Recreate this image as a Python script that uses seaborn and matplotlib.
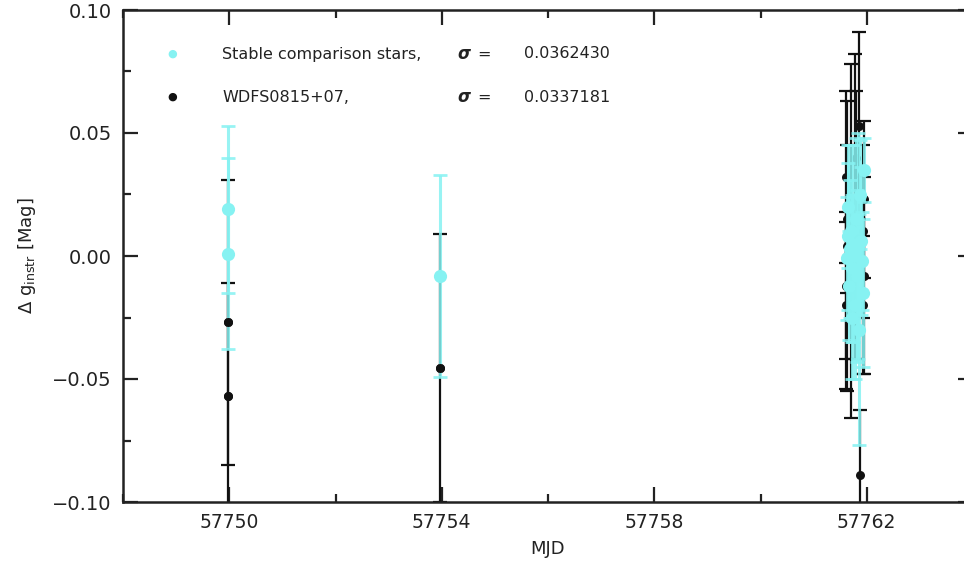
import numpy as np
import pandas as pd
import matplotlib
matplotlib.use("Agg")
import matplotlib.pyplot as plt
from matplotlib.ticker import MultipleLocator, FuncFormatter
import seaborn as sns

# ---- data ----
# Stable comparison stars (cyan)
comp_mjd = [57749.97, 57749.97, 57753.97,
            57761.62, 57761.64, 57761.66, 57761.68, 57761.70, 57761.72, 57761.74,
            57761.76, 57761.78, 57761.80, 57761.82, 57761.84, 57761.86, 57761.88,
            57761.90, 57761.92, 57761.94, 57761.65, 57761.73, 57761.91]
comp_mag = [0.019, 0.001, -0.008,
            -0.001, 0.008, -0.012, 0.003, 0.010, -0.005, 0.005,
            0.000, -0.020, 0.015, -0.008, 0.004, -0.030, 0.025,
            0.006, -0.015, 0.035, 0.020, -0.025, -0.002]
comp_err = [0.034, 0.039, 0.041,
            0.025, 0.030, 0.022, 0.028, 0.035, 0.030, 0.040,
            0.025, 0.030, 0.033, 0.035, 0.046, 0.047, 0.022,
            0.030, 0.030, 0.013, 0.025, 0.025, 0.020]

# WDFS0815+07 (black)
wd_mjd = [57749.97, 57749.97, 57753.97,
          57761.63, 57761.70, 57761.77, 57761.85, 57761.88, 57761.61, 57761.61,
          57761.94, 57761.94, 57761.62, 57761.93, 57761.61, 57761.93, 57761.80]
wd_mag = [-0.027, -0.057, -0.0455,
          0.004, 0.006, 0.020, 0.053, -0.089, 0.032, -0.020,
          0.023, -0.008, 0.015, 0.010, -0.012, -0.020, 0.040]
wd_err = [0.058, 0.046, 0.0545,
          0.059, 0.072, 0.062, 0.038, 0.0265, 0.035, 0.034,
          0.032, 0.040, 0.030, 0.035, 0.030, 0.028, 0.027]

legend_labels = ["Stable comparison stars,", "WDFS0815+07,"]
legend_sigmas = ["0.0362430", "0.0337181"]

x_ticks = [57750, 57754, 57758, 57762]
y_ticks = [-0.10, -0.05, 0.00, 0.05, 0.10]

CYAN = "#86f2f2"
BLACK = "#111111"
TXT = "#222222"

sns.set_theme(style="white")
plt.rcParams['font.family'] = ['DejaVu Sans']

comp = pd.DataFrame({"mjd": comp_mjd, "mag": comp_mag, "err": comp_err})
wd = pd.DataFrame({"mjd": wd_mjd, "mag": wd_mag, "err": wd_err})

fig = plt.figure(figsize=(9.64, 5.63), dpi=100)
ax = fig.add_axes([123 / 964, 61 / 563, (973 - 123) / 964, (502 - 10) / 563])

ax.errorbar(wd["mjd"], wd["mag"], yerr=wd["err"], fmt="none", ecolor=BLACK,
            elinewidth=1.6, capsize=5, capthick=1.6, zorder=2)
sns.scatterplot(data=wd, x="mjd", y="mag", color=BLACK, s=42, linewidth=0,
                ax=ax, zorder=3)
ax.errorbar(comp["mjd"], comp["mag"], yerr=comp["err"], fmt="none", ecolor=CYAN,
            elinewidth=2.2, capsize=5, capthick=2.0, alpha=0.85, zorder=4)
sns.scatterplot(data=comp, x="mjd", y="mag", color=CYAN, s=90, linewidth=0,
                ax=ax, zorder=5)
# black markers at the two isolated epochs sit on top of the cyan bars
iso = wd[wd["mjd"] < 57760]
sns.scatterplot(data=iso, x="mjd", y="mag", color=BLACK, s=42, linewidth=0,
                ax=ax, zorder=6)

ax.set_xlim(57748, 57764)
ax.set_ylim(-0.10, 0.10)
ax.set_xticks(x_ticks)
ax.xaxis.set_minor_locator(MultipleLocator(2))
ax.set_yticks(y_ticks)
ax.yaxis.set_minor_locator(MultipleLocator(0.025))
ax.xaxis.set_major_formatter(FuncFormatter(lambda v, p: f"{int(round(v))}"))
ax.yaxis.set_major_formatter(FuncFormatter(lambda v, p: f"{v:.2f}".replace("-", "\u2212")))

ax.tick_params(which="both", direction="in", top=True, right=True, bottom=True, left=True,
               colors=TXT, labelcolor=TXT)
ax.tick_params(which="major", length=11, width=1.6, pad=8)
ax.tick_params(axis="y", which="major", labelsize=14)
ax.tick_params(axis="x", which="major", labelsize=13.5)
ax.tick_params(which="minor", length=6, width=1.6)
for s in ax.spines.values():
    s.set_color(TXT)
    s.set_linewidth(1.8)
    s.set_visible(True)

ax.set_xlabel("MJD", fontsize=13, color=TXT, labelpad=6)
ax.set_ylabel(r"$\Delta\ \mathrm{g}_{\mathrm{instr}}$ [Mag]", fontsize=13, color=TXT, labelpad=10)

# legend drawn as text
leg_colors = [CYAN, BLACK]
leg_y = [54, 97]
for lab, sig, col, yy in zip(legend_labels, legend_sigmas, leg_colors, leg_y):
    fy = 1 - yy / 563
    fig.text(172 / 964, fy, "\u25CF", color=col, fontsize=8, ha="center", va="center")
    fig.text(222 / 964, fy, lab, fontsize=11.5, color=TXT, ha="left", va="center")
    fig.text(457 / 964, fy, "\u03C3", fontsize=12, color=TXT, ha="left", va="center",
             fontweight="bold", fontstyle="italic")
    fig.text(477 / 964, fy, "=", fontsize=11.5, color=TXT, ha="left", va="center")
    fig.text(524 / 964, fy, sig, fontsize=11.5, color=TXT, ha="left", va="center")

fig.savefig("out.png", dpi=100)
